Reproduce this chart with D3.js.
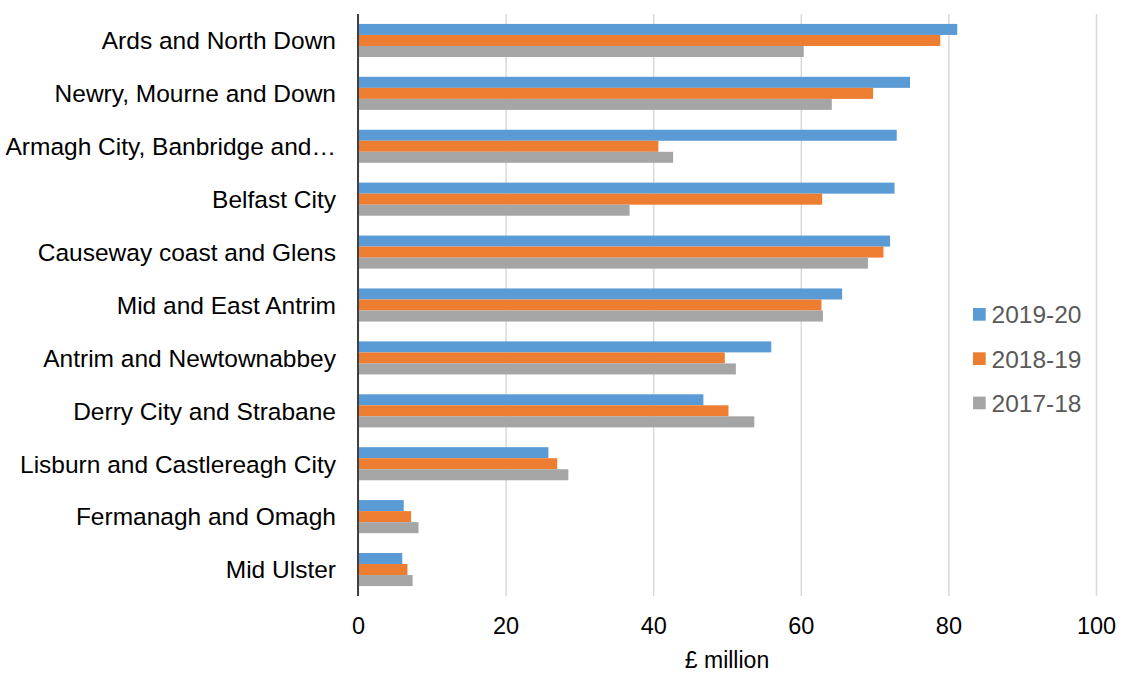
<!DOCTYPE html>
<html>
<head>
<meta charset="utf-8">
<script src="https://cdn.jsdelivr.net/npm/d3@7"></script>
<style>
  html, body { margin: 0; padding: 0; background: #fff; }
  svg { display: block; font-family: "Liberation Sans", Arial, sans-serif; }
</style>
</head>
<body>
<svg id="chart" width="1124" height="673"></svg>
<script>
// Council areas, top to bottom
const councils = [
  "Ards and North Down",
  "Newry, Mourne and Down",
  "Armagh City, Banbridge and\u2026",
  "Belfast City",
  "Causeway coast and Glens",
  "Mid and East Antrim",
  "Antrim and Newtownabbey",
  "Derry City and Strabane",
  "Lisburn and Castlereagh City",
  "Fermanagh and Omagh",
  "Mid Ulster"
];

// Spend per year, £ million
const years = ["2019-20", "2018-19", "2017-18"];
const values2019_20 = [81.2, 74.8, 73.0, 72.7, 72.1, 65.6, 56.0, 46.8, 25.8, 6.2, 6.0];
const values2018_19 = [78.9, 69.8, 40.7, 62.9, 71.2, 62.8, 49.7, 50.2, 27.0, 7.2, 6.7];
const values2017_18 = [60.4, 64.2, 42.7, 36.8, 69.1, 63.0, 51.2, 53.7, 28.5, 8.2, 7.4];
const xTicks = [0, 20, 40, 60, 80, 100];
const xTitle = "\u00a3 million";

const seriesValues = [values2019_20, values2018_19, values2017_18];
const colors = ["#5b9bd5", "#ed7d31", "#a5a5a5"];

const svg = d3.select("#chart");
const plot = { left: 358, right: 1096, top: 14, bottom: 596 };

const x = d3.scaleLinear().domain([0, 100]).range([plot.left, plot.right]);
const y = d3.scaleBand().domain(councils).range([plot.top, plot.bottom]);
const groupH = y.bandwidth() * 0.625;
const ySeries = d3.scaleBand().domain(years)
  .range([(y.bandwidth() - groupH) / 2, (y.bandwidth() + groupH) / 2]);

// Vertical gridlines
svg.append("g")
  .attr("transform", `translate(0,${plot.bottom})`)
  .call(d3.axisBottom(x).tickValues(xTicks).tickSize(-(plot.bottom - plot.top)).tickFormat(""))
  .call(g => g.select(".domain").remove())
  .call(g => g.selectAll("line").attr("stroke", "#d9d9d9").attr("stroke-width", 1.5));

// Bars
const rows = councils.map((c, i) => ({ council: c, vals: years.map((yr, s) => ({ year: yr, s, v: seriesValues[s][i] })) }));
const groups = svg.append("g").selectAll("g").data(rows).join("g")
  .attr("transform", d => `translate(0,${y(d.council)})`);
groups.selectAll("rect").data(d => d.vals).join("rect")
  .attr("x", x(0))
  .attr("y", d => ySeries(d.year))
  .attr("width", d => x(d.v) - x(0))
  .attr("height", ySeries.bandwidth())
  .attr("fill", d => colors[d.s]);

// X tick labels
svg.append("g")
  .attr("transform", `translate(0,${plot.bottom})`)
  .call(d3.axisBottom(x).tickValues(xTicks).tickSize(0).tickPadding(21))
  .call(g => g.select(".domain").remove())
  .call(g => g.selectAll("text")
    .attr("fill", "#000").style("font-size", "23.5px").style("font-family", "'Liberation Sans', Arial, sans-serif"));

// X title
svg.append("text")
  .attr("x", (plot.left + plot.right) / 2)
  .attr("y", 668)
  .attr("text-anchor", "middle")
  .attr("fill", "#000")
  .style("font-size", "23px")
  .text(xTitle);

// Category axis
svg.append("g")
  .attr("transform", `translate(${plot.left},0)`)
  .call(d3.axisLeft(y).tickSize(0).tickPadding(22))
  .call(g => g.select(".domain").attr("stroke", "#404040").attr("stroke-width", 2)
    .attr("d", `M0,${plot.top}V${plot.bottom}`))
  .call(g => g.selectAll("text")
    .attr("fill", "#000").attr("dy", "0.36em")
    .style("font-size", "24.5px").style("font-family", "'Liberation Sans', Arial, sans-serif"));

// Legend
const legend = svg.append("g").attr("transform", "translate(973,308)");
const items = legend.selectAll("g").data(years).join("g")
  .attr("transform", (d, i) => `translate(0,${i * 44.3})`);
items.append("rect").attr("width", 12.7).attr("height", 12.7).attr("fill", (d, i) => colors[i]);
items.append("text")
  .attr("x", 18.5).attr("y", 15.2)
  .attr("fill", "#595959")
  .style("font-size", "24.5px")
  .text(d => d);
</script>
</body>
</html>
